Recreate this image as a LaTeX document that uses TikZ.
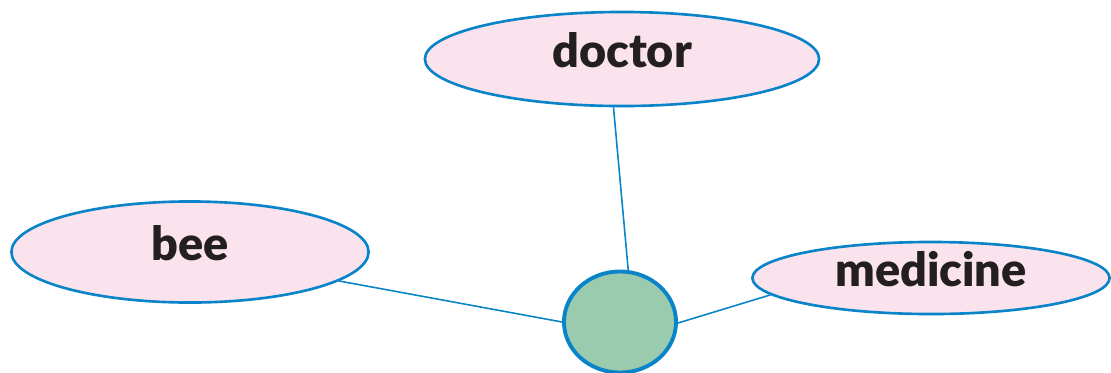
\documentclass[tikz,border=0pt]{standalone}
\usepackage{fontspec}
\setmainfont[BoldFont=Lato Black]{Lato}
\usetikzlibrary{shapes.geometric}
\definecolor{linkblue}{RGB}{10,132,200}
\definecolor{wordpink}{RGB}{251,227,238}
\definecolor{hubgreen}{RGB}{155,203,174}
\definecolor{inkdark}{RGB}{35,31,32}

\begin{document}
\begin{tikzpicture}[
    x=0.01cm, y=-0.01cm,
    word/.style={draw=linkblue, line width=0.75pt, fill=wordpink, ellipse, inner sep=0pt,
        text height=0.32cm, text depth=0.16cm,
        font=\fontsize{13.3}{15}\selectfont\bfseries, text=inkdark},
    hub/.style={draw=linkblue, line width=1.1pt, fill=hubgreen, ellipse, inner sep=0pt,
        minimum width=1.12cm, minimum height=1.01cm},
    link/.style={draw=linkblue, line width=0.45pt}
]
\useasboundingbox (0,0) rectangle (1111,372);

\node[word, minimum width=3.94cm, minimum height=0.94cm] (doctor) at (622,59) {doctor};
\node[word, minimum width=3.57cm, minimum height=1.01cm] (bee) at (190,252) {bee};
\node[word, minimum width=3.57cm, minimum height=0.72cm] (medicine) at (931,278) {medicine};
\node[hub] (centre) at (620,322) {};

\draw[link] (doctor.-100) -- (centre.81);
\draw[link] (bee.-11) -- (centre.180);
\draw[link] (medicine.-174) -- (centre.-1);

\end{tikzpicture}
\end{document}
